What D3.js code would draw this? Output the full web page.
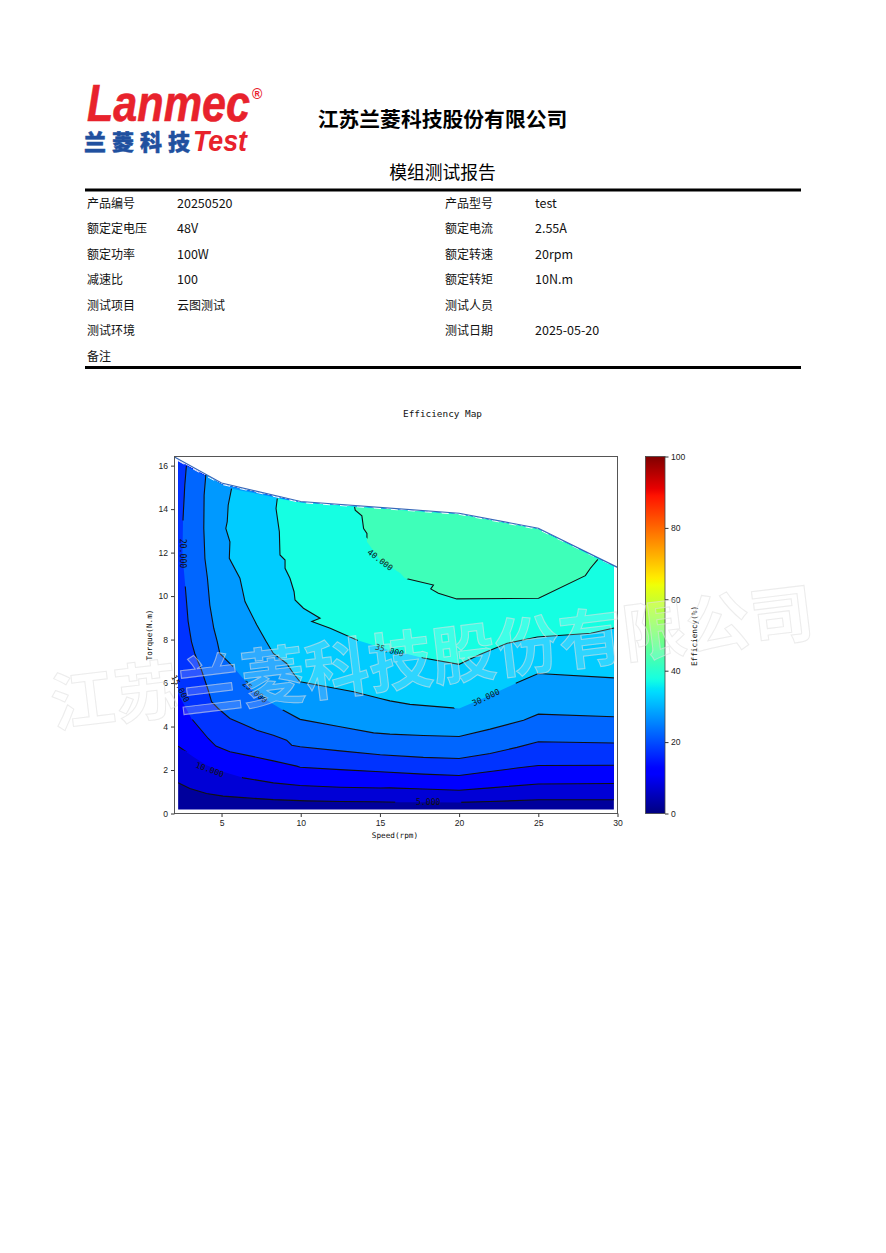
<!DOCTYPE html>
<html>
<head>
<meta charset="utf-8">
<script src="https://cdn.jsdelivr.net/npm/d3@7"></script>
<style>
body { margin: 0; background: #fff; }
svg { display: block; }
</style>
</head>
<body>
<div id="chart"></div>
<script>
// report header
const company = '江苏兰菱科技股份有限公司';
const reportTitle = '模组测试报告';
const leftLabels = ['产品编号', '额定定电压', '额定功率', '减速比', '测试项目', '测试环境', '备注'];
const leftValues = ['20250520', '48V', '100W', '100', '云图测试', '', ''];
const rightLabels = ['产品型号', '额定电流', '额定转速', '额定转矩', '测试人员', '测试日期'];
const rightValues = ['test', '2.55A', '20rpm', '10N.m', '', '2025-05-20'];

// chart values, speed (rpm) / torque (N.m) pairs
const speedTicks = [5, 10, 15, 20, 25, 30];
const torqueTicks = [0, 2, 4, 6, 8, 10, 12, 14, 16];
const efficiencyTicks = [0, 20, 40, 60, 80, 100];
const envelope = [[2.03, 16.4], [5, 15.2], [10, 14.35], [20, 13.81], [25, 13.12], [30, 11.32]];
const fillTop = [[2.26, 16.22], [5, 15.14], [10, 14.3], [20, 13.76], [25, 13.07], [29.77, 11.38]];
const fillBottom = [[2.26, 0.18], [29.77, 0.18]];

const contour5 = [[2.26, 1.41], [3, 1.15], [4.05, .92], [5.1, .8], [6.16, .74], [8.27, .64], [10.38, .58], [12.49, .55], [14.6, .54], [16.29, .52], [17.74, .52], [20, .51], [21.96, .55], [25, .63], [29.77, .63]];
const contour10 = [[2.26, 3.1], [2.47, 2.99], [3.21, 2.61], [4.05, 2.22], [5.1, 1.92], [6.37, 1.64], [8.27, 1.41], [9.96, 1.29], [12.49, 1.21], [15.02, 1.17], [15.63, 1.18], [17.74, 1.13], [20, 1.07], [21.96, 1.18], [25, 1.36], [29.77, 1.38]];
const contour15 = [[2.26, 5.52], [3.1, 4.37], [3.63, 3.91], [4.16, 3.45], [4.64, 3.1], [5.53, 2.84], [6.79, 2.65], [8.27, 2.42], [9.75, 2.18], [9.96, 2.13], [12.49, 2.02], [15.02, 1.92], [17.74, 1.81], [20, 1.75], [21.96, 1.93], [23.65, 2.09], [25, 2.21], [29.77, 2.22]];
const contour20 = [[2.78, 15.98], [2.68, 15.1], [2.57, 13.57], [2.53, 11.96], [2.72, 10.36], [2.89, 8.84], [3.1, 7.91], [3.31, 7.36], [3.73, 6.6], [4.16, 5.67], [4.37, 5.14], [4.79, 4.83], [5.53, 4.37], [6.37, 4.11], [7.22, 3.83], [8.27, 3.6], [9.11, 3.37], [9.43, 3.14], [9.96, 3.07], [12.49, 2.88], [15.02, 2.7], [17.74, 2.58], [20, 2.53], [21.96, 2.76], [23.65, 3.04], [25, 3.3], [29.77, 3.24]];
const contour25 = [[4.01, 15.59], [3.9, 14.64], [3.88, 13.11], [3.95, 11.73], [4.11, 10.82], [4.26, 9.59], [4.51, 8.52], [4.73, 7.91], [4.89, 7.36], [5.63, 6.83], [7, 5.67], [7.85, 5.21], [8.9, 4.75], [9.96, 4.33], [12.49, 3.99], [14.6, 3.71], [15.63, 3.65], [17.74, 3.59], [20, 3.54], [21.96, 3.88], [24.07, 4.29], [25, 4.57], [29.77, 4.45]];
const contour30 = [[5.63, 14.94], [5.42, 14.18], [5.36, 13.42], [5.27, 13.11], [5.53, 12.5], [5.49, 11.74], [6.16, 10.82], [6.48, 9.75], [7.22, 8.68], [7.81, 7.92], [8.27, 7.36], [9.11, 6.9], [9.54, 6.44], [9.96, 6.06], [11.65, 5.83], [13.34, 5.6], [15.02, 5.29], [15.63, 5.18], [16.9, 5.02], [19.58, 4.86], [20, 4.83], [21.65, 5.34], [23.65, 6.01], [25, 6.44], [29.77, 6.24]];
const contour35 = [[8.52, 14.49], [8.44, 14.03], [8.65, 12.96], [8.69, 11.89], [9.01, 11.66], [9.01, 11.28], [9.32, 10.82], [9.58, 10.2], [9.64, 9.82], [10.17, 9.44], [11.22, 8.98], [10.7, 8.83], [11.86, 8.52], [13.54, 7.98], [15.6, 7.51], [16.28, 7.42], [17.74, 7.15], [20, 6.86], [21.35, 7.32], [23.04, 7.83], [24.94, 8.12], [28.31, 8.29], [29.78, 8.53]];
const contour40 = [[13.4, 14.1], [13.44, 13.95], [13.86, 13.69], [13.97, 13.11], [14.18, 12.88], [14.18, 12.5], [15.02, 11.66], [16.29, 11.05], [16.58, 10.82], [18.38, 10.51], [18.21, 10.33], [18.69, 10.13], [19.85, 9.87], [25.02, 9.9], [27.97, 10.94], [28.29, 11.28], [28.76, 11.69]];

const levels = [5, 10, 15, 20, 25, 30, 35, 40];
const contours = [contour5, contour10, contour15, contour20, contour25, contour30, contour35, contour40];

// inline contour labels: text, speed, torque, rotation
const labelTexts = ['5.000', '10.000', '15.000', '20.000', '25.000', '30.000', '35.000', '40.000'];
const labelSpeeds = [18.05, 4.26, 2.41, 2.57, 7.11, 21.69, 15.6, 15.02];
const labelTorques = [.51, 2.02, 5.75, 11.96, 5.6, 5.34, 7.51, 11.66];
const labelAngles = [0, 20, 62, 90, 40, -25, 15, 38];

const width = 886, height = 1253;
const cjk = '"Noto Sans CJK SC", sans-serif';
const mono = '"DejaVu Sans Mono", monospace';
const sans = '"Liberation Sans", sans-serif';

const svg = d3.select('#chart').append('svg').attr('width', width).attr('height', height);

// logo
const logo = svg.append('g');
logo.append('text').attr('x', 87).attr('y', 121).text('Lanmec')
    .attr('textLength', 163).attr('lengthAdjust', 'spacingAndGlyphs')
    .style('font', 'italic bold 52px ' + sans).attr('fill', '#e8222c')
    .attr('stroke', '#e8222c').attr('stroke-width', .6);
logo.append('text').attr('x', 252).attr('y', 99).text('®')
    .style('font', 'bold 14px ' + sans).attr('fill', '#e8222c');
logo.append('text').attr('x', 84).attr('y', 150).text('兰菱科技')
    .attr('textLength', 106).attr('lengthAdjust', 'spacing')
    .style('font', '900 22px ' + cjk).attr('fill', '#20509f')
    .attr('stroke', '#20509f').attr('stroke-width', .5);
logo.append('text').attr('x', 193).attr('y', 151).text('Test')
    .attr('textLength', 54).attr('lengthAdjust', 'spacingAndGlyphs')
    .style('font', 'italic bold 30px ' + sans).attr('fill', '#e8222c');

// header
svg.append('text').attr('x', 442.5).attr('y', 127).attr('text-anchor', 'middle').text(company)
    .style('font', 'bold 20.8px ' + cjk).attr('fill', '#000');
svg.append('text').attr('x', 442.5).attr('y', 179).attr('text-anchor', 'middle').text(reportTitle)
    .style('font', '17.8px ' + cjk).attr('fill', '#000');
svg.selectAll('.rule').data([190, 367.5]).join('line').attr('class', 'rule')
    .attr('x1', 85).attr('x2', 801).attr('y1', d => d).attr('y2', d => d)
    .attr('stroke', '#000').attr('stroke-width', 3);

// table
const rowY = d3.scaleLinear().domain([0, 6]).range([207.5, 360.5]);
function column(labels, x) {
    svg.append('g').selectAll('text').data(labels).join('text')
        .attr('x', x).attr('y', (d, i) => rowY(i) + (i % 2 ? .4 : 0)).text(d => d)
        .style('font', d => (/[\u4e00-\u9fff]/.test(d) ? '12px ' : '12.5px ') + cjk)
        .attr('fill', '#111');
}
column(leftLabels, 87);
column(leftValues, 177);
column(rightLabels, 445);
column(rightValues, 535);

// jet colormap
const jetR = d3.scaleLinear().domain([0, .35, .66, .89, 1]).range([0, 0, 1, 1, .5]);
const jetG = d3.scaleLinear().domain([0, .125, .375, .64, .91, 1]).range([0, 0, 1, 1, 0, 0]);
const jetB = d3.scaleLinear().domain([0, .11, .34, .65, 1]).range([.5, 1, 1, 0, 0]);
const jet = v => d3.rgb(jetR(v / 100) * 255, jetG(v / 100) * 255, jetB(v / 100) * 255).formatHex();

// scales
const x = d3.scaleLinear().domain([2.03, 30]).range([174.5, 617.5]);
const y = d3.scaleLinear().domain([0, 16.42]).range([813.5, 456.5]);
const path = d3.line().x(d => x(d[0])).y(d => y(d[1]));

// filled bands, painted low to high
function bandPolygon(line) {
    const s0 = line[0][0], s1 = line[line.length - 1][0];
    const top = fillTop.filter(d => d[0] >= s0 && d[0] <= s1).reverse();
    return path(line.concat(top)) + 'Z';
}
svg.append('path').attr('d', bandPolygon(fillBottom)).attr('fill', jet(2.5));
contours.forEach((line, i) => {
    svg.append('path').attr('d', bandPolygon(line)).attr('fill', jet(levels[i] + 2.5));
});

// gaps in the contour lines behind the labels
const labelGap = 66;
const mask = svg.append('mask').attr('id', 'gaps').attr('maskUnits', 'userSpaceOnUse')
    .attr('x', 0).attr('y', 0).attr('width', width).attr('height', height);
mask.append('rect').attr('width', width).attr('height', height).attr('fill', '#fff');
labelTexts.forEach((t, i) => {
    mask.append('rect').attr('x', -labelGap / 2).attr('y', -9).attr('width', labelGap).attr('height', 18)
        .attr('fill', '#000')
        .attr('transform', `translate(${x(labelSpeeds[i])},${y(labelTorques[i])}) rotate(${labelAngles[i]})`);
});
svg.append('g').attr('mask', 'url(#gaps)').selectAll('path').data(contours).join('path')
    .attr('d', path).attr('fill', 'none').attr('stroke', '#111').attr('stroke-width', 1.1);

svg.append('g').selectAll('text').data(labelTexts).join('text')
    .attr('transform', (d, i) => `translate(${x(labelSpeeds[i])},${y(labelTorques[i])}) rotate(${labelAngles[i]})`)
    .attr('text-anchor', 'middle').attr('dy', '0.35em').text(d => d)
    .style('font', '8.2px ' + mono).attr('fill', '#111');

// white dashes under the boundary line
svg.append('path').attr('d', path(fillTop)).attr('fill', 'none')
    .attr('stroke', '#fff').attr('stroke-width', 1).attr('stroke-dasharray', '7 10');
svg.append('path').attr('d', path(envelope)).attr('fill', 'none')
    .attr('stroke', '#3566b8').attr('stroke-width', 1.2);

// axes
svg.append('rect').attr('x', 174.5).attr('y', 456.5).attr('width', 443).attr('height', 357)
    .attr('fill', 'none').attr('stroke', '#555');
function styleAxis(g) {
    g.selectAll('.domain').remove();
    g.selectAll('line').attr('stroke', '#333');
    g.selectAll('text').style('font', '8.6px ' + sans).attr('fill', '#222');
}
svg.append('g').attr('transform', 'translate(0,813.5)')
    .call(d3.axisBottom(x).tickValues(speedTicks).tickSize(3.5).tickPadding(3)).call(styleAxis);
svg.append('g').attr('transform', 'translate(174.5,0)')
    .call(d3.axisLeft(y).tickValues(torqueTicks).tickSize(3.5).tickPadding(3)).call(styleAxis);
svg.append('text').attr('x', 395).attr('y', 838).attr('text-anchor', 'middle').text('Speed(rpm)')
    .style('font', '7.7px ' + mono).attr('fill', '#111');
svg.append('text').attr('transform', 'translate(152,635) rotate(-90)').attr('text-anchor', 'middle').text('Torque(N.m)')
    .style('font', '7.7px ' + mono).attr('fill', '#111');
svg.append('text').attr('x', 442.5).attr('y', 416.5).attr('text-anchor', 'middle').text('Efficiency Map')
    .style('font', '9.4px ' + mono).attr('fill', '#111');

// colorbar
const barScale = d3.scaleLinear().domain([0, 100]).range([813.5, 456.5]);
const grad = svg.append('linearGradient').attr('id', 'jet').attr('x1', 0).attr('y1', 1).attr('x2', 0).attr('y2', 0);
grad.selectAll('stop').data(d3.range(0, 101)).join('stop')
    .attr('offset', d => d + '%').attr('stop-color', d => jet(d));
svg.append('rect').attr('x', 645.5).attr('y', 456.5).attr('width', 19.5).attr('height', 357)
    .attr('fill', 'url(#jet)').attr('stroke', '#444').attr('stroke-width', .8);
svg.append('g').attr('transform', 'translate(665,0)')
    .call(d3.axisRight(barScale).tickValues(efficiencyTicks).tickSize(3.5).tickPadding(2.5)).call(styleAxis);
svg.append('text').attr('transform', 'translate(696.5,636) rotate(-90)').attr('text-anchor', 'middle').text('Efficiency(%)')
    .style('font', '7.7px ' + mono).attr('fill', '#111');

// watermark
svg.append('text').attr('transform', 'translate(432,658) rotate(-6.9)').attr('text-anchor', 'middle').text(company)
    .attr('dy', '0.36em')
    .style('font', 'bold 64px ' + cjk)
    .attr('fill', '#fff').attr('fill-opacity', .18)
    .attr('stroke', '#e0e0e0').attr('stroke-opacity', .6).attr('stroke-width', 1);
</script>
</body>
</html>
